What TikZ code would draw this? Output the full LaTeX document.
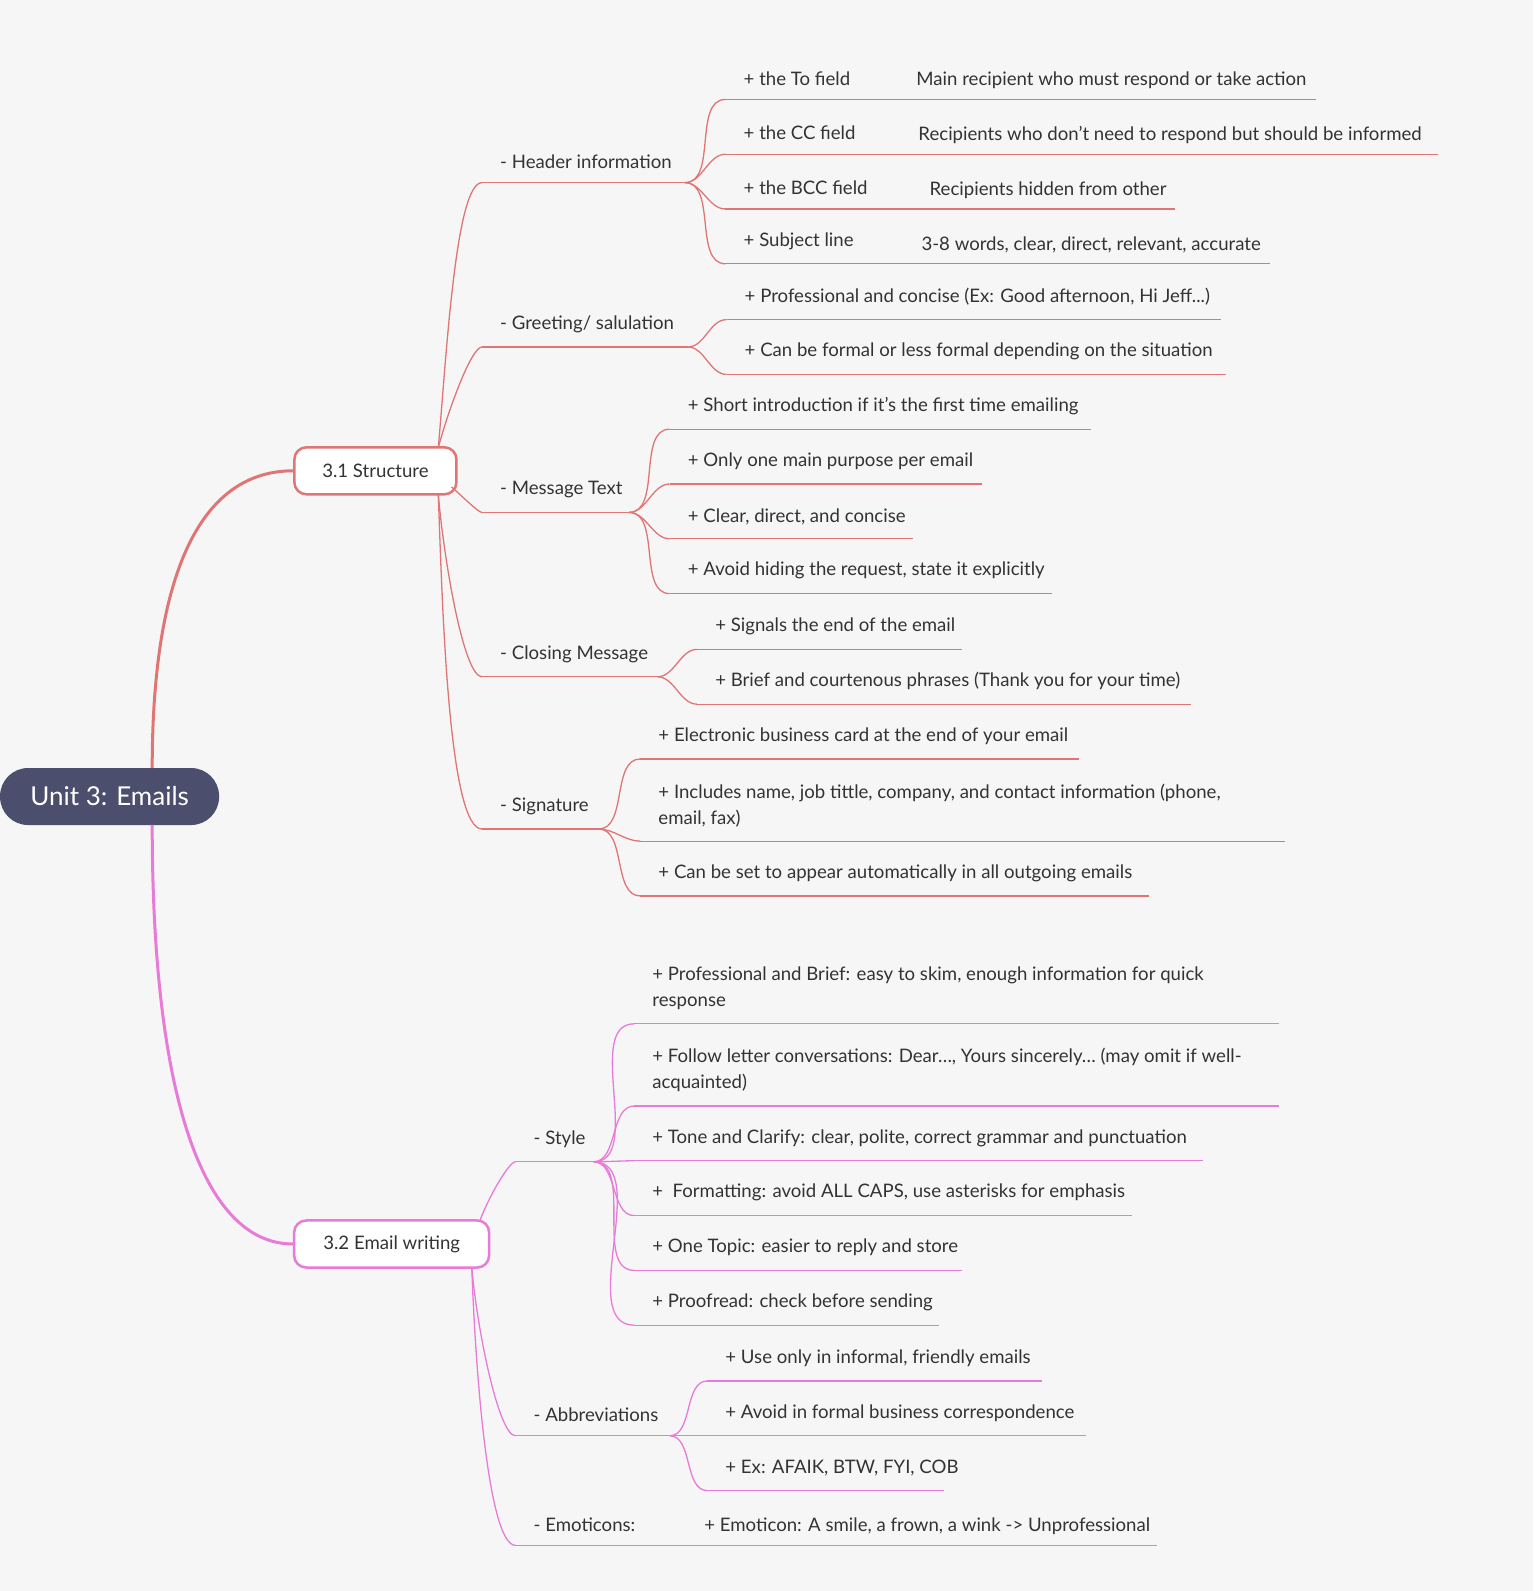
\documentclass[tikz,border=0pt]{standalone}
\usepackage{fontspec}
\setmainfont{Lato}
\definecolor{bgc}{HTML}{F6F6F6}
\definecolor{rootc}{HTML}{4B4E6D}
\definecolor{redc}{HTML}{E07575}
\definecolor{pinkc}{HTML}{E87AD8}
\definecolor{txtc}{HTML}{333333}
% underlined item: name, start x, end x, y, text
\newcommand{\twig}[5]{%
  \coordinate (#1-a) at (#2,#4);
  \coordinate (#1-b) at (#3,#4);
  \draw [line] (#1-a) -- (#1-b);
  \node [leaf] (#1) at ([xshift=17pt,yshift=13pt]#1-a) {#5};
}
\newcommand{\bend}[2]{%
  \draw [line] (#1) to [out=0, in=180, looseness=0.9] (#2);
}
% branch leaving a topic box: from, to, leaving angle
\newcommand{\rise}[3]{%
  \draw [line] (#1) to [out=#3, in=180, out looseness=0.9, in looseness=0.25] (#2);
}
\begin{document}
\begin{tikzpicture}[x=1.0146pt,y=-1.0146pt,
  line/.style={line width=1.3pt},
  leaf/.style={anchor=south west, inner sep=1pt, text=txtc, align=left,
    font=\fontsize{18.6}{26}\selectfont},
  topic/.style={draw, line width=2.5pt, fill=white, rounded corners=12pt,
    minimum width=#1, minimum height=47pt, text=txtc, font=\fontsize{18.6}{22}\selectfont},
]
\useasboundingbox [fill=bgc] (0,0) rectangle (1511,1568);

% root and main topics
\node [fill=rootc, text=white, rounded corners=28pt, minimum width=219pt, minimum height=57pt,
  font=\fontsize{26}{30}\selectfont] (root) at (108,785) {Unit 3: Emails};
\node [topic=162pt, draw=redc] (st) at (370,464) {3.1 Structure};
\node [topic=195pt, draw=pinkc] (ew) at (386,1226) {3.2 Email writing};
\draw [redc, line width=3pt] (150,757) .. controls (150,560) and (200,464) .. (st.west);
\draw [pinkc, line width=3pt] (150,813) .. controls (150,1080) and (200,1226) .. (ew.west);

% 3.1 Structure
\begin{scope}[redc]
\coordinate (st-n) at (432,441);
\coordinate (st-e) at (445,480);
\coordinate (st-s) at (432,488);
\twig{hd}{475}{675}{180}{- Header information}
\twig{gr}{475}{678}{342}{- Greeting/ salulation}
\twig{ms}{475}{620}{505}{- Message Text}
\twig{cl}{475}{648}{667}{- Closing Message}
\twig{sg}{475}{590}{817}{- Signature}
\rise{st-n}{hd-a}{85}
\rise{st-n}{gr-a}{75}
\rise{st-e}{ms-a}{-40}
\rise{st-s}{cl-a}{-85}
\rise{st-s}{sg-a}{-88}

\twig{to}{715}{1297}{98}{+ the To field}
\twig{cc}{715}{1417}{152}{+ the CC field}
\twig{bc}{715}{1158}{206}{+ the BCC field}
\twig{sb}{715}{1252}{260}{+ Subject line}
\node [leaf] (to-d) at (902,89) {Main recipient who must respond or take action};
\node [leaf] (cc-d) at (904,143) {Recipients who don't need to respond but should be informed};
\node [leaf] (bc-d) at (915,197) {Recipients hidden from other};
\node [leaf] (sb-d) at (907,251) {3-8 words, clear, direct, relevant, accurate};
\foreach \n in {to,cc,bc,sb} {\bend{hd-b}{\n-a}}

\twig{gr1}{716}{1203}{315}{+ Professional and concise (Ex: Good afternoon, Hi Jeff...)}
\twig{gr2}{716}{1208}{369}{+ Can be formal or less formal depending on the situation}
\foreach \n in {gr1,gr2} {\bend{gr-b}{\n-a}}

\twig{ms1}{660}{1075}{423}{+ Short introduction if it's the first time emailing}
\twig{ms2}{660}{968}{477}{+ Only one main purpose per email}
\twig{ms3}{660}{900}{531}{+ Clear, direct, and concise}
\twig{ms4}{660}{1037}{585}{+ Avoid hiding the request, state it explicitly}
\foreach \n in {ms1,ms2,ms3,ms4} {\bend{ms-b}{\n-a}}

\twig{cl1}{687}{948}{640}{+ Signals the end of the email}
\twig{cl2}{687}{1174}{694}{+ Brief and courtenous phrases (Thank you for your time)}
\foreach \n in {cl1,cl2} {\bend{cl-b}{\n-a}}

\twig{sg1}{631}{1063}{748}{+ Electronic business card at the end of your email}
\twig{sg2}{631}{1266}{829}{+ Includes name, job tittle, company, and contact information (phone,\\email, fax)}
\twig{sg3}{631}{1132}{883}{+ Can be set to appear automatically in all outgoing emails}
\foreach \n in {sg1,sg2,sg3} {\bend{sg-b}{\n-a}}
\end{scope}

% 3.2 Email writing
\begin{scope}[pinkc]
\coordinate (ew-n) at (473,1203);
\coordinate (ew-s) at (465,1250);
\twig{sy}{508}{585}{1145}{- Style}
\twig{ab}{508}{660}{1415}{- Abbreviations}
\twig{em}{508}{1140}{1523}{- Emoticons:}
\rise{ew-n}{sy-a}{70}
\rise{ew-s}{ab-a}{-85}
\rise{ew-s}{em-a}{-88}
\node [leaf] (em-d) at (693,1514) {+ Emoticon: A smile, a frown, a wink -> Unprofessional};

\twig{sy1}{625}{1260}{1009}{+ Professional and Brief: easy to skim, enough information for quick\\response}
\twig{sy2}{625}{1260}{1090}{+ Follow letter conversations: Dear…, Yours sincerely… (may omit if well-\\acquainted)}
\twig{sy3}{625}{1186}{1144}{+ Tone and Clarify: clear, polite, correct grammar and punctuation}
\twig{sy4}{625}{1116}{1198}{+ \ Formatting: avoid ALL CAPS, use asterisks for emphasis}
\twig{sy5}{625}{948}{1252}{+ One Topic: easier to reply and store}
\twig{sy6}{625}{925}{1306}{+ Proofread: check before sending}
\foreach \n in {sy1,sy2,sy3,sy4,sy5,sy6} {\bend{sy-b}{\n-a}}

\twig{ab1}{697}{1027}{1361}{+ Use only in informal, friendly emails}
\twig{ab2}{697}{1070}{1415}{+ Avoid in formal business correspondence}
\twig{ab3}{697}{930}{1469}{+ Ex: AFAIK, BTW, FYI, COB}
\foreach \n in {ab1,ab2,ab3} {\bend{ab-b}{\n-a}}
\end{scope}
\end{tikzpicture}
\end{document}
